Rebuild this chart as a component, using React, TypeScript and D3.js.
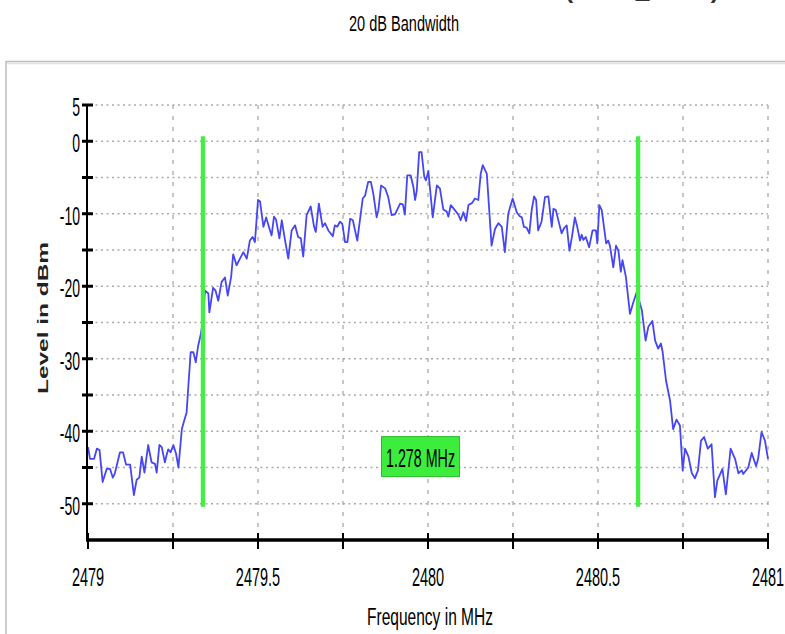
import React from "react";
import * as d3 from "d3";

// ---- data ----
const freqMHz = [
  2479.000, 2479.006, 2479.018, 2479.026, 2479.034, 2479.043, 2479.055, 2479.065, 2479.073, 2479.079,
  2479.094, 2479.103, 2479.112, 2479.124, 2479.135, 2479.143, 2479.151, 2479.158, 2479.166, 2479.177,
  2479.187, 2479.197, 2479.202, 2479.210, 2479.217, 2479.226, 2479.231, 2479.236, 2479.243, 2479.251,
  2479.259, 2479.266, 2479.276, 2479.282, 2479.290, 2479.295, 2479.302, 2479.310, 2479.317, 2479.324,
  2479.331, 2479.337, 2479.344, 2479.354, 2479.357, 2479.368, 2479.375, 2479.383, 2479.393, 2479.403,
  2479.411, 2479.421, 2479.427, 2479.437, 2479.447, 2479.457, 2479.467, 2479.476, 2479.484, 2479.491,
  2479.500, 2479.506, 2479.516, 2479.524, 2479.532, 2479.540, 2479.547, 2479.553, 2479.563, 2479.570,
  2479.579, 2479.589, 2479.599, 2479.609, 2479.618, 2479.626, 2479.633, 2479.643, 2479.655, 2479.665,
  2479.670, 2479.679, 2479.690, 2479.697, 2479.707, 2479.720, 2479.726, 2479.733, 2479.741, 2479.748,
  2479.756, 2479.763, 2479.771, 2479.779, 2479.792, 2479.808, 2479.815, 2479.824, 2479.832, 2479.839,
  2479.849, 2479.854, 2479.862, 2479.874, 2479.883, 2479.893, 2479.903, 2479.918, 2479.926, 2479.932,
  2479.939, 2479.949, 2479.957, 2479.962, 2479.967, 2479.974, 2479.981, 2479.989, 2479.994, 2480.001,
  2480.014, 2480.026, 2480.035, 2480.045, 2480.055, 2480.060, 2480.067, 2480.079, 2480.089, 2480.096,
  2480.104, 2480.112, 2480.119, 2480.130, 2480.138, 2480.148, 2480.155, 2480.161, 2480.173, 2480.187,
  2480.197, 2480.207, 2480.217, 2480.226, 2480.236, 2480.249, 2480.261, 2480.269, 2480.276, 2480.282,
  2480.290, 2480.298, 2480.305, 2480.312, 2480.318, 2480.324, 2480.334, 2480.344, 2480.354, 2480.364,
  2480.369, 2480.376, 2480.386, 2480.393, 2480.400, 2480.408, 2480.416, 2480.423, 2480.432, 2480.439,
  2480.447, 2480.452, 2480.457, 2480.464, 2480.474, 2480.484, 2480.494, 2480.498, 2480.504, 2480.511,
  2480.524, 2480.530, 2480.535, 2480.545, 2480.553, 2480.560, 2480.567, 2480.572, 2480.582, 2480.594,
  2480.604, 2480.614, 2480.629, 2480.640, 2480.648, 2480.660, 2480.668, 2480.677, 2480.685, 2480.690,
  2480.700, 2480.712, 2480.721, 2480.731, 2480.741, 2480.749, 2480.756, 2480.766, 2480.776, 2480.785,
  2480.794, 2480.803, 2480.812, 2480.823, 2480.834, 2480.844, 2480.851, 2480.866, 2480.876, 2480.890,
  2480.903, 2480.913, 2480.923, 2480.927, 2480.942, 2480.952, 2480.965, 2480.971, 2480.981, 2480.991,
  2481.000,
];

const levelDbm = [
  -42.2, -43.8, -43.8, -42.4, -42.6, -47.0, -45.2, -45.2, -46.4, -45.8,
  -42.9, -42.9, -44.6, -44.6, -48.8, -46.7, -46.4, -43.5, -45.7, -41.9,
  -44.3, -44.5, -45.7, -41.9, -42.2, -44.3, -43.3, -42.5, -42.9, -41.9,
  -43.1, -45.0, -39.7, -38.7, -37.4, -33.9, -29.1, -29.1, -30.5, -28.2,
  -26.8, -25.1, -20.6, -21.0, -23.6, -20.2, -20.6, -22.0, -19.4, -18.8,
  -21.3, -18.7, -15.6, -17.1, -16.2, -15.3, -16.2, -13.7, -13.2, -13.9,
  -8.1, -8.3, -11.8, -10.5, -11.8, -13.0, -10.4, -10.8, -13.4, -10.9,
  -13.5, -16.2, -12.3, -11.6, -13.2, -13.4, -15.9, -10.2, -9.0, -11.8,
  -12.5, -8.6, -11.8, -11.3, -12.3, -13.1, -11.6, -11.8, -11.1, -11.4,
  -13.9, -13.9, -10.7, -10.9, -13.7, -7.9, -7.5, -5.6, -5.6, -7.2,
  -10.5, -9.5, -6.1, -6.5, -7.7, -10.2, -10.1, -8.6, -8.7, -10.1,
  -4.7, -4.7, -6.3, -8.1, -6.8, -1.5, -1.5, -4.9, -5.4, -4.1,
  -10.5, -6.1, -6.5, -9.4, -9.7, -10.4, -8.8, -9.5, -10.1, -10.9,
  -9.8, -11.0, -8.8, -8.5, -7.9, -8.1, -4.5, -3.3, -4.5, -14.4,
  -12.1, -11.3, -11.8, -15.3, -10.0, -7.9, -9.8, -10.3, -10.5, -11.8,
  -11.9, -12.7, -9.5, -7.6, -8.1, -12.3, -11.1, -7.7, -7.6, -11.8,
  -9.3, -9.5, -11.4, -12.7, -12.0, -11.6, -15.1, -13.3, -10.5, -11.8,
  -13.7, -12.9, -13.6, -13.2, -14.6, -12.3, -12.3, -14.1, -8.8, -9.5,
  -14.1, -13.7, -14.4, -17.4, -14.4, -15.1, -18.0, -16.4, -18.7, -23.8,
  -22.2, -20.8, -23.3, -27.5, -25.6, -24.8, -27.5, -28.6, -27.9, -29.0,
  -33.0, -35.8, -39.7, -38.4, -39.2, -45.4, -42.4, -43.5, -45.8, -46.5,
  -45.4, -41.3, -40.8, -42.4, -41.8, -49.1, -46.8, -45.2, -48.7, -42.4,
  -43.8, -45.8, -45.4, -45.9, -45.0, -43.0, -44.8, -43.8, -40.1, -41.3,
  -43.8,
];

const xTicks = [2479, 2479.25, 2479.5, 2479.75, 2480, 2480.25, 2480.5, 2480.75, 2481];
const xTickLabels = ["2479", "", "2479.5", "", "2480", "", "2480.5", "", "2481"];
const yTicks = [5, 0, -5, -10, -15, -20, -25, -30, -35, -40, -45, -50];
const yTickLabels = ["5", "0", "", "-10", "", "-20", "", "-30", "", "-40", "", "-50"];
const markerFreqs = [2479.338, 2480.618];
const markerSpanDbm = [0.7, -50.4];
const bandwidthLabel = "1.278 MHz";
const bandwidthLabelLevel = -43.5;
const chartTitle = "20 dB Bandwidth";
const xAxisTitle = "Frequency in MHz";
const yAxisTitle = "Level in dBm";
const topCutText = "(CH39_HIGH)";

const W = 785;
const H = 634;
const FONT = "'Liberation Sans', Arial, sans-serif";

export default function App() {
  const x = d3.scaleLinear().domain([2479, 2481]).range([88, 768]);
  const y = d3.scaleLinear().domain([-55, 5]).range([540, 105]);
  const pts = freqMHz.map((f, i) => [f, levelDbm[i]] as [number, number]);
  const line = d3
    .line<[number, number]>()
    .x((d) => x(d[0]))
    .y((d) => y(d[1]));

  const gridColor = "#ababab";
  const labelCx = (x(markerFreqs[0]) + x(markerFreqs[1])) / 2;
  const labelCy = y(bandwidthLabelLevel);

  return (
    <svg
      width={W}
      height={H}
      style={{ position: "fixed", left: 0, top: 0, background: "#fff" }}
      fontFamily={FONT}
    >
      <rect x={0} y={0} width={W} height={H} fill="#fff" />
      {/* cut-off top title (only its descenders are visible in the reference) */}
      <text x={565} y={-2.5} fontSize={24} fontWeight="bold" fill="#333" textLength={154} lengthAdjust="spacingAndGlyphs">
        {topCutText}
      </text>
      {/* title */}
      <text x={404} y={31} fontSize={22} textAnchor="middle" fill="#000" textLength={110} lengthAdjust="spacingAndGlyphs">
        {chartTitle}
      </text>
      {/* frame */}
      <rect x={6} y={61.5} width={900} height={700} fill="none" stroke="#bcbcbc" strokeWidth={1.5} />
      <line x1={7} x2={W} y1={63.5} y2={63.5} stroke="#e4e4e4" strokeWidth={1.5} />

      {/* horizontal dotted grid */}
      {yTicks.map((t) => (
        <line key={"hg" + t} x1={90} x2={768} y1={y(t)} y2={y(t)} stroke={gridColor} strokeWidth={1.4} strokeDasharray="2,3.5" />
      ))}
      {/* vertical dashed grid */}
      {xTicks.slice(1).map((t) => (
        <line key={"vg" + t} x1={x(t)} x2={x(t)} y1={105} y2={538} stroke={gridColor} strokeWidth={1.3} strokeDasharray="4,7" />
      ))}

      {/* trace */}
      <path d={line(pts) || ""} fill="none" stroke="#4646f4" strokeWidth={1.8} strokeLinejoin="round" />

      {/* markers */}
      {markerFreqs.map((f) => (
        <line key={"m" + f} x1={x(f)} x2={x(f)} y1={y(markerSpanDbm[0])} y2={y(markerSpanDbm[1])} stroke="#44ee44" strokeWidth={4.3} />
      ))}

      {/* bandwidth label */}
      <rect x={labelCx - 39} y={labelCy - 20} width={78} height={40} fill="#3ded3d" stroke="#2cb82c" strokeWidth={1} />
      <text x={labelCx} y={labelCy + 10} fontSize={25} textAnchor="middle" fill="#000" textLength={69} lengthAdjust="spacingAndGlyphs">
        {bandwidthLabel}
      </text>

      {/* y axis */}
      <line x1={87} x2={87} y1={104} y2={541} stroke="#000" strokeWidth={2} />
      {yTicks.map((t, i) => (
        <g key={"yt" + t}>
          <line x1={82} x2={93} y1={y(t)} y2={y(t)} stroke="#000" strokeWidth={3} />
          {yTickLabels[i] && (
            <text transform={`translate(80,${y(t) + 11}) scale(0.56,1)`} fontSize={25} textAnchor="end" fill="#000">
              {yTickLabels[i]}
            </text>
          )}
        </g>
      ))}

      {/* x axis */}
      <line x1={86} x2={769} y1={540} y2={540} stroke="#000" strokeWidth={3.5} />
      {xTicks.map((t, i) => (
        <g key={"xt" + t}>
          <line x1={x(t)} x2={x(t)} y1={533} y2={549} stroke="#000" strokeWidth={2} />
          {xTickLabels[i] && (
            <text transform={`translate(${x(t)},586) scale(0.58,1)`} fontSize={25} textAnchor="middle" fill="#000">
              {xTickLabels[i]}
            </text>
          )}
        </g>
      ))}

      {/* axis titles */}
      <text x={430} y={625} fontSize={23} textAnchor="middle" fill="#000" textLength={126} lengthAdjust="spacingAndGlyphs">
        {xAxisTitle}
      </text>
      <text
        transform={`translate(48,318) rotate(-90)`}
        fontSize={15}
        fontWeight="bold"
        textAnchor="middle"
        fill="#222"
        textLength={152}
        lengthAdjust="spacingAndGlyphs"
      >
        {yAxisTitle}
      </text>
    </svg>
  );
}
